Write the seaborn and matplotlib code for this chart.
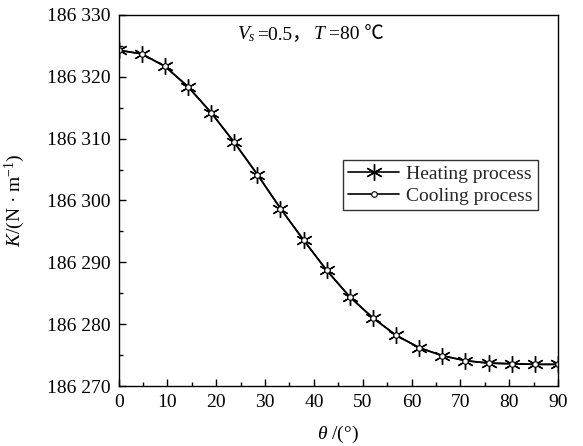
import matplotlib
matplotlib.use("Agg")
import matplotlib.pyplot as plt
import seaborn as sns
import numpy as np
import pandas as pd
from matplotlib.ticker import MultipleLocator, FuncFormatter
from matplotlib.offsetbox import TextArea, HPacker, AnchoredOffsetbox

theta = [0.0, 4.74, 9.47, 14.21, 18.95, 23.68, 28.42, 33.16, 37.89, 42.63,
         47.37, 52.11, 56.84, 61.58, 66.32, 71.05, 75.79, 80.53, 85.26, 90.0]
heating = [186324.3, 186323.7, 186321.7, 186318.4, 186314.2, 186309.4, 186304.2,
           186298.7, 186293.6, 186288.7, 186284.4, 186281.0, 186278.2, 186276.2,
           186274.9, 186274.1, 186273.7, 186273.6, 186273.5, 186273.5]
cooling = heating.copy()

sns.set_theme(style="ticks")
FAM = ['Liberation Serif', 'Noto Sans CJK SC', 'DejaVu Sans']
plt.rcParams['font.family'] = FAM
plt.rcParams['mathtext.fontset'] = 'custom'
plt.rcParams['mathtext.rm'] = 'Liberation Serif'
plt.rcParams['mathtext.it'] = 'Liberation Serif:italic'

FS = 14
fig = plt.figure(figsize=(5.83, 4.46), dpi=100)
ax = fig.add_axes([0.2035, 0.1345, 0.7535, 0.832])

df = pd.DataFrame({"theta": theta, "heating": heating, "cooling": cooling})

sns.lineplot(data=df, x="theta", y="heating", ax=ax, color="black", lw=1.2,
             marker=(6, 2, 0), markersize=12, markeredgewidth=1.0,
             markeredgecolor="black", label="Heating process")
sns.lineplot(data=df, x="theta", y="cooling", ax=ax, color="black", lw=1.2,
             marker="o", markersize=4, markerfacecolor="white",
             markeredgecolor="black", markeredgewidth=0.8, label="Cooling process")

ax.set_xlim(0, 90)
ax.set_ylim(186270, 186330)
ax.xaxis.set_major_locator(MultipleLocator(10))
ax.xaxis.set_minor_locator(MultipleLocator(5))
ax.yaxis.set_major_locator(MultipleLocator(10))
ax.yaxis.set_minor_locator(MultipleLocator(5))
ax.yaxis.set_major_formatter(FuncFormatter(lambda v, p: f"{int(round(v)):,}".replace(",", " ")))
ax.tick_params(which="both", direction="in", top=False, right=False, colors="black",
               labelsize=FS, width=1.0, pad=6)
ax.tick_params(which="major", length=5)
ax.tick_params(which="minor", length=3)
for s in ax.spines.values():
    s.set_color("black")
    s.set_linewidth(1.0)

ax.set_xlabel(r"$\theta$ /(°)", fontsize=FS, color="black", labelpad=9)
ax.set_ylabel(r"$K$/(N · m$^{-1}$)", fontsize=FS, color="black", labelpad=14)

# annotation built from pieces so CJK punctuation can fall back
parts = [
    TextArea(r"$V_s$", textprops=dict(fontsize=FS, color="black")),
    TextArea("=0.5，", textprops=dict(fontsize=FS, color="black", family=FAM)),
    TextArea(r"$T$", textprops=dict(fontsize=FS, color="black")),
    TextArea("=80 ℃", textprops=dict(fontsize=FS, color="black", family=FAM)),
]
box = HPacker(children=parts, align="baseline", pad=0, sep=1)
anc = AnchoredOffsetbox(loc="upper left", child=box, pad=0, frameon=False,
                        bbox_to_anchor=(0.27, 0.975), bbox_transform=ax.transAxes,
                        borderpad=0)
ax.add_artist(anc)

leg = ax.legend(loc="upper right", bbox_to_anchor=(0.955, 0.61), fontsize=FS,
                frameon=True, fancybox=False, edgecolor="black", borderpad=0.3,
                handlelength=2.6, handletextpad=0.35, labelspacing=0.2, borderaxespad=0)
leg.get_frame().set_linewidth(1.0)

fig.savefig("out.png", dpi=100, facecolor="white")
